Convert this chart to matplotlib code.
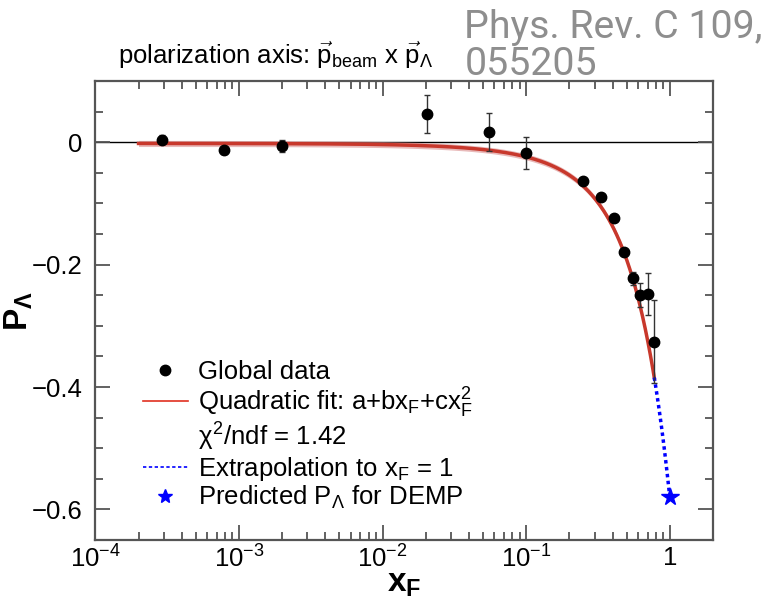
import numpy as np
import matplotlib
matplotlib.use('Agg')
import matplotlib.pyplot as plt
from matplotlib.lines import Line2D
from matplotlib.ticker import LogLocator, MultipleLocator, FixedFormatter, FixedLocator

plt.rcParams['font.family'] = ['Liberation Sans', 'DejaVu Sans']
plt.rcParams['mathtext.fontset'] = 'custom'
plt.rcParams['mathtext.rm'] = 'Liberation Sans'
plt.rcParams['mathtext.it'] = 'Liberation Sans'
plt.rcParams['mathtext.bf'] = 'Liberation Sans:bold'

# global Lambda polarization data vs x_F
x_f = [2.9e-4, 7.9e-4, 2.0e-3, 0.0203, 0.055, 0.100, 0.248, 0.333, 0.406, 0.479, 0.555, 0.620, 0.705, 0.780]
p_lambda = [0.0044, -0.0125, -0.006, 0.0457, 0.0168, -0.018, -0.063, -0.090, -0.124, -0.1795, -0.2225, -0.2497, -0.248, -0.326]
p_err = [0.008, 0.006, 0.010, 0.031, 0.031, 0.026, 0.004, 0.004, 0.004, 0.005, 0.011, 0.019, 0.034, 0.068]

# quadratic fit a + b*x + c*x^2
fit_a, fit_b, fit_c = -0.002, -0.1796, -0.3984
fit_band = 0.005
fit_xmin, fit_xmax = 2e-4, 0.78

# prediction at x_F = 1
x_pred = 1.0
p_pred = -0.58

def quad(x):
    return fit_a + fit_b * x + fit_c * x ** 2

fig = plt.figure(figsize=(7.65, 6.05), dpi=100)
ax = fig.add_axes([0.1246, 0.1074, 0.8074, 0.7587])

ax.axhline(0, color='black', lw=1.0, zorder=1)

xs = np.logspace(np.log10(fit_xmin), np.log10(fit_xmax), 400)
ax.fill_between(xs, quad(xs) - fit_band, quad(xs) + fit_band, color='#d98c8c', alpha=0.6, lw=0, zorder=2)
ax.plot(xs, quad(xs), color='#c8382c', lw=2.5, zorder=3)

xe = np.linspace(fit_xmax, x_pred, 50)
ax.plot(xe, quad(xe), color='blue', lw=2.5, ls=(0, (1, 1)), zorder=3)

ax.errorbar(x_f, p_lambda, yerr=p_err, fmt='o', color='black', ms=7.5,
            ecolor='#333333', elinewidth=1.0, capsize=2.5, capthick=1.0, zorder=4)
ax.plot([x_pred], [p_pred], marker='*', color='blue', ms=13, ls='none', zorder=5)

ax.set_xscale('log')
ax.set_xlim(1e-4, 2.0)
ax.set_ylim(-0.65, 0.1)

ax.xaxis.set_major_locator(FixedLocator([1e-4, 1e-3, 1e-2, 1e-1, 1]))
ax.xaxis.set_major_formatter(FixedFormatter([r'$10^{-4}$', r'$10^{-3}$', r'$10^{-2}$', r'$10^{-1}$', '1']))
ax.xaxis.set_minor_locator(LogLocator(base=10, subs=np.arange(2, 10)))
ax.xaxis.set_minor_formatter(plt.NullFormatter())
ax.yaxis.set_major_locator(MultipleLocator(0.2))
ax.yaxis.set_minor_locator(MultipleLocator(0.05))
ax.yaxis.set_major_formatter(plt.FuncFormatter(lambda v, _: '0' if abs(v) < 1e-9 else f'{v:.1f}'.replace('-', '\u2212')))

frame_col = '#555555'
for s in ax.spines.values():
    s.set_color(frame_col)
    s.set_linewidth(1.6)
ax.tick_params(which='both', direction='in', top=True, right=True, color=frame_col, width=1.3,
               labelsize=18.5)
ax.tick_params(axis='y', pad=9)
ax.tick_params(axis='x', pad=4)
ax.tick_params(which='major', length=11)
ax.tick_params(which='minor', length=6)

ax.set_xlabel(r'$\mathbf{x_F}$', fontsize=24)
ax.set_ylabel(r'$\mathbf{P_\Lambda}$', fontsize=24)
ax.xaxis.set_label_coords(0.5, -0.062)
ax.yaxis.set_label_coords(-0.098, 0.5)

fig.text(0.154, 0.894, r'polarization axis: $\vec{p}_{\mathrm{beam}}$ x $\vec{p}_{\Lambda}$', fontsize=18.5)

fig.text(0.607, 0.985, 'Phys. Rev. C 109,\n055205', fontsize=28.3, color='#8e8e8e',
         family='Roboto', weight='normal', va='top', ha='left', linespacing=1.0)

handles = [
    Line2D([], [], marker='o', color='black', ls='none', ms=7.5),
    Line2D([], [], color='#e03020', lw=1.2),
    Line2D([], [], ls='none'),
    Line2D([], [], color='blue', lw=1.2, ls=(0, (2, 1.5))),
    Line2D([], [], marker='*', color='blue', ls='none', ms=10),
]
labels = [
    'Global data',
    r'Quadratic fit: a+bx$_\mathrm{F}$+cx$_\mathrm{F}^2$',
    r'$\chi^2$/ndf = 1.42',
    r'Extrapolation to x$_\mathrm{F}$ = 1',
    r'Predicted P$_\Lambda$ for DEMP',
]
ax.legend(handles, labels, loc='lower left', bbox_to_anchor=(0.056, 0.035), frameon=False,
          fontsize=18.5, handlelength=1.75, handletextpad=0.4, labelspacing=0.05, borderpad=0)

fig.savefig('out.png', dpi=100)
